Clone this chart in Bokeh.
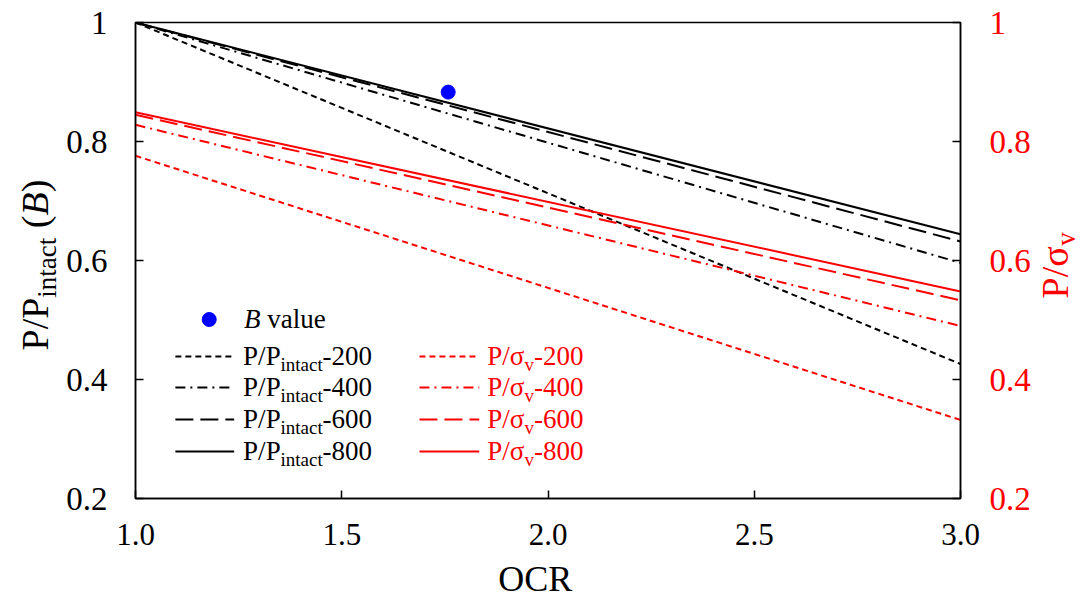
import math
from bokeh.plotting import figure
from bokeh.layouts import row, column
from bokeh.models import Range1d, LinearAxis, FixedTicker, CustomJSTickFormatter
from bokeh.core.properties import value
from bokeh.embed import file_html
from bokeh.resources import INLINE

# ---------------- data ----------------
ocr = [1.0, 3.0]
intact_200 = [1.0, 0.426]
intact_400 = [1.0, 0.596]
intact_600 = [1.0, 0.632]
intact_800 = [1.0, 0.644]
sigma_200 = [0.776, 0.332]
sigma_400 = [0.828, 0.490]
sigma_600 = [0.845, 0.533]
sigma_800 = [0.849, 0.548]
b_ocr = [1.758]
b_value = [0.883]
x_ticks = [1.0, 1.5, 2.0, 2.5, 3.0]
y_ticks = [0.2, 0.4, 0.6, 0.8, 1.0]
pressures = ["200", "400", "600", "800"]

# ---------------- layout (canvas pixels) ----------------
W, H = 1081, 599
LW, RW = 63, 48            # side strips for rotated titles
MH = 559                    # main figure height, bottom strip below
FL, FT = 133, 22            # frame left / top in canvas pixels
FR_X, FB_Y = 961, 498       # frame right / bottom in canvas pixels
MW = W - LW - RW
FW, FH = FR_X - FL, FB_Y - FT
X0, X1, Y0, Y1 = 1.0, 3.0, 0.2, 1.0
SERIF = "Liberation Serif"
KB = 0.36                   # bokeh "alphabetic" anchor correction (fraction of font size)


def sx(px):
    return X0 + (px - FL) / FW * (X1 - X0)


def sy(py):
    return Y1 - (py - FT) / FH * (Y1 - Y0)


# Times / Liberation Serif advance widths (per em)
ADV = {"P": .556, "/": .278, " ": .25, "(": .333, ")": .333, "B": .667, "i": .278,
       "n": .5, "t": .278, "a": .444, "c": .444, "-": .333, "v": .5, "l": .278,
       "u": .5, "e": .444, "σ": .552, "O": .722, "C": .667, "R": .667, ".": .25}


def tw(s, size, italic=False):
    w = 0
    for ch in s:
        if ch.isdigit():
            w += .5
        elif italic and ch == "B":
            w += .611
        else:
            w += ADV.get(ch, .5)
    return w * size


p = figure(width=MW, height=MH, x_range=Range1d(X0, X1), y_range=Range1d(Y0, Y1),
           output_backend="svg", toolbar_location=None,
           min_border_left=FL - LW, min_border_right=(W - RW) - FR_X,
           min_border_top=FT, min_border_bottom=MH - FB_Y,
           background_fill_color="white", border_fill_color="white")
p.xgrid.visible = False
p.ygrid.visible = False
p.outline_line_color = "black"
p.outline_line_width = 1.5
p.extra_y_ranges = {"right": Range1d(Y0, Y1)}
ax_r = LinearAxis(y_range_name="right")
p.add_layout(ax_r, "right")

yfmt = CustomJSTickFormatter(code="return Math.abs(tick - 1) < 1e-9 ? '1' : tick.toFixed(1);")
xfmt = CustomJSTickFormatter(code="return tick.toFixed(1);")

for ax in list(p.xaxis) + list(p.yaxis):
    ax.major_tick_in = 8
    ax.major_tick_out = 0
    ax.minor_tick_in = 0
    ax.minor_tick_out = 0
    ax.axis_line_color = "black"
    ax.axis_line_width = 1.5
    ax.major_tick_line_color = "black"
    ax.major_tick_line_width = 1.5
    ax.major_label_text_font = SERIF
    ax.major_label_text_color = "black"

for ax in p.xaxis:
    ax.ticker = FixedTicker(ticks=x_ticks)
    ax.formatter = xfmt
    ax.major_label_text_font_size = "31px"
    ax.major_label_standoff = 25

p.yaxis[0].ticker = FixedTicker(ticks=y_ticks)
p.yaxis[0].formatter = yfmt
p.yaxis[0].major_label_text_font_size = "33px"
p.yaxis[0].major_label_standoff = 28

ax_r.ticker = FixedTicker(ticks=y_ticks)
ax_r.formatter = yfmt
ax_r.major_label_text_font_size = "33px"
ax_r.major_label_standoff = 29
ax_r.major_label_text_color = "red"

dashes = ["6 4", "10 5 2 5", "18 7", "solid"]
intact = [intact_200, intact_400, intact_600, intact_800]
sigma = [sigma_200, sigma_400, sigma_600, sigma_800]

for ys, d in zip(intact, dashes):
    p.line(ocr, ys, line_color="black", line_width=2, line_dash=d)
for ys, d in zip(sigma, dashes):
    p.line(ocr, ys, line_color="red", line_width=2, line_dash=d, y_range_name="right")

p.scatter(b_ocr, b_value, size=14, color="blue")


def ptext(fig, px, py, s, size, color="black", style="normal", rotated=False,
          align="left", main=False):
    """px, py: canvas pixel position of the text baseline start."""
    if rotated:
        px = px - KB * size
    else:
        py = py - KB * size
    x, y = (sx(px), sy(py)) if main else (px, py)
    fig.text(x=[x], y=[y], text=[s], angle=(math.pi / 2 if rotated else 0.0),
             text_font=value(SERIF), text_font_size=value(f"{size}px"), text_color=color,
             text_font_style=style, text_align=align, text_baseline="alphabetic")


def strip(w, h, x0, x1, ytop, ybot):
    f = figure(width=w, height=h, x_range=Range1d(x0, x1), y_range=Range1d(ybot, ytop),
               output_backend="svg", toolbar_location=None, x_axis_type=None, y_axis_type=None,
               min_border=0, min_border_left=0, min_border_right=0, min_border_top=0,
               min_border_bottom=0, background_fill_color="white", border_fill_color="white")
    f.outline_line_color = None
    f.xgrid.visible = False
    f.ygrid.visible = False
    return f


# ---------------- legend (inside the frame) ----------------
LF, LS, LSH = 27, 19, 6
rows_y = [356, 387, 419, 451]
p.scatter([sx(207)], [sy(319)], size=14, color="blue")
ptext(p, 242, 328, "B", LF, style="italic", main=True)
ptext(p, 242 + tw("B ", LF, italic=True), 328, "value", LF, main=True)

for ry, d, pr in zip(rows_y, dashes, pressures):
    base = ry + 9
    p.line([sx(173), sx(232)], [sy(ry), sy(ry)], line_color="black", line_width=2, line_dash=d)
    bx = 241
    ptext(p, bx, base, "P/P", LF, main=True)
    bx += tw("P/P", LF)
    ptext(p, bx, base + LSH, "intact", LS, main=True)
    bx += tw("intact", LS)
    ptext(p, bx, base, "-" + pr, LF, main=True)

    p.line([sx(418), sx(478)], [sy(ry), sy(ry)], line_color="red", line_width=2, line_dash=d)
    rx = 486
    ptext(p, rx, base, "P/σ", LF, color="red", main=True)
    rx += tw("P/σ", LF)
    ptext(p, rx, base + LSH, "v", LS, color="red", main=True)
    rx += tw("v", LS)
    ptext(p, rx, base, "-" + pr, LF, color="red", main=True)

# ---------------- axis titles in side strips ----------------
TF, TS = 38, 27

left = strip(LW, H, 0, LW, 0, H)
ax0, ay0 = 48, 350
ptext(left, ax0, ay0, "P/P", TF, rotated=True)
ay = ay0 - tw("P/P", TF)
ptext(left, ax0 + 8, ay, "intact", TS, rotated=True)
ay -= tw("intact", TS)
ptext(left, ax0, ay - tw(" ", TF), "(", TF, rotated=True)
ay -= tw(" (", TF)
ptext(left, ax0, ay, "B", TF, style="italic", rotated=True)
ay -= tw("B", TF, italic=True)
ptext(left, ax0, ay, ")", TF, rotated=True)

right = strip(RW, H, W - RW, W, 0, H)
rx0, ry0 = 1068, 298
ptext(right, rx0, ry0, "P/σ", TF, color="red", rotated=True)
ptext(right, rx0 + 7, ry0 - tw("P/σ", TF), "v", TS, color="red", rotated=True)

bottom = strip(MW, H - MH, LW, W - RW, MH, H)
ptext(bottom, 533, 591, "OCR", 36, align="center")

layout = row(left, column(p, bottom), right)
open("out.html", "w").write(file_html(layout, INLINE))
